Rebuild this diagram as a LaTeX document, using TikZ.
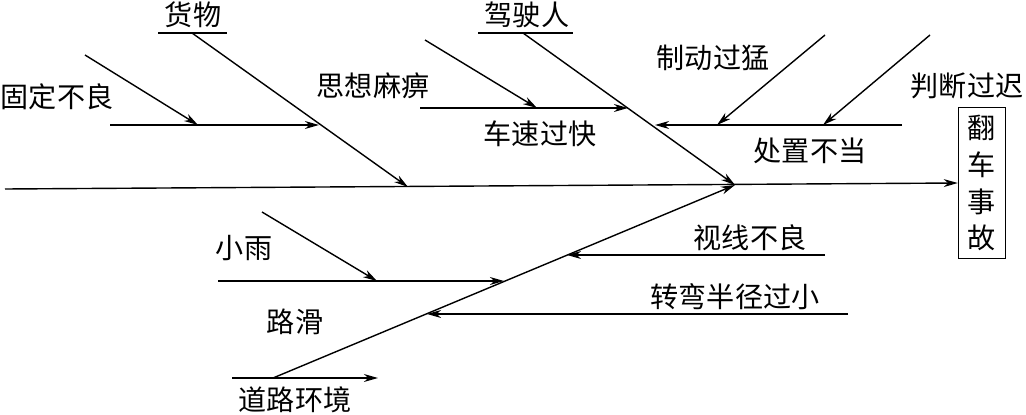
\documentclass[tikz,border=0pt]{standalone}
\usepackage{fontspec}
\setmainfont{Noto Sans CJK SC}
\usetikzlibrary{arrows.meta}
\tikzset{
  bone/.style={line width=0.8pt},
  arr/.style={bone,-{Stealth[length=8pt,width=4.5pt,inset=2.5pt]}},
  lbl/.style={font=\fontsize{16}{20}\selectfont,inner sep=0pt},
}
\begin{document}
\begin{tikzpicture}[x=0.02cm,y=-0.02cm]
  \useasboundingbox (0,0) rectangle (1026,415);

  % spine and result
  \node[lbl,draw,line width=0.8pt,align=center,minimum width=0.94cm,minimum height=3.02cm,font=\fontsize{16}{21}\selectfont] (result) at (982,183) {翻\\车\\事\\故};
  \coordinate (tail) at (5,189);
  \coordinate (head) at (735,185);
  \path [arr] (tail) edge (result.west);

  % cargo
  \node[lbl] (goods) at (193,15) {货物};
  \coordinate (g0) at (158,33);
  \coordinate (g1) at (227,33);
  \coordinate (c0) at (192,33);
  \coordinate (c1) at (408,187);
  \path [bone] (g0) edge (g1);
  \path [arr] (c0) edge (c1);
  \node[lbl] (fix) at (57,97) {固定不良};
  \node[lbl] (numb) at (373,86) {思想麻痹};
  \coordinate (f0) at (110,125);
  \coordinate (f1) at (319,125);
  \coordinate (f2) at (85,55);
  \coordinate (f3) at (198,125);
  \path [arr] (f0) edge (f1);
  \path [arr] (f2) edge (f3);

  % driver
  \node[lbl] (driver) at (527,15) {驾驶人};
  \coordinate (e0) at (478,33);
  \coordinate (e1) at (573,33);
  \coordinate (d0) at (523,33);
  \path [bone] (e0) edge (e1);
  \path [arr] (d0) edge (head);
  \coordinate (s0) at (420,108);
  \coordinate (s1) at (628,108);
  \coordinate (s2) at (425,40);
  \coordinate (s3) at (537,108);
  \path [arr] (s0) edge (s1);
  \path [arr] (s2) edge (s3);
  \node[lbl] (speed) at (540,134) {车速过快};
  \coordinate (h0) at (902,125);
  \coordinate (h1) at (655,125);
  \coordinate (b0) at (825,35);
  \coordinate (b1) at (717,125);
  \coordinate (j0) at (930,35);
  \coordinate (j1) at (823,125);
  \path [arr] (h0) edge (h1);
  \path [arr] (b0) edge (b1);
  \path [arr] (j0) edge (j1);
  \node[lbl] (brake) at (713,58) {制动过猛};
  \node[lbl] (judge) at (967,86) {判断过迟};
  \node[lbl] (handle) at (810,151) {处置不当};

  % road
  \coordinate (r0) at (273,378);
  \path [arr] (r0) edge (head);
  \coordinate (u0) at (232,378);
  \coordinate (u1) at (378,378);
  \path [arr] (u0) edge (u1);
  \node[lbl] (road) at (295,400) {道路环境};
  \coordinate (l0) at (218,281);
  \coordinate (l1) at (504,281);
  \coordinate (w0) at (262,212);
  \coordinate (w1) at (377,281);
  \path [arr] (l0) edge (l1);
  \path [arr] (w0) edge (w1);
  \node[lbl] (rain) at (244,248) {小雨};
  \node[lbl] (slip) at (295,322) {路滑};
  \coordinate (v0) at (825,255);
  \coordinate (v1) at (567,255);
  \coordinate (t0) at (848,314);
  \coordinate (t1) at (427,314);
  \path [arr] (v0) edge (v1);
  \path [arr] (t0) edge (t1);
  \node[lbl] (sight) at (750,238) {视线不良};
  \node[lbl] (turn) at (735,297) {转弯半径过小};
\end{tikzpicture}
\end{document}
